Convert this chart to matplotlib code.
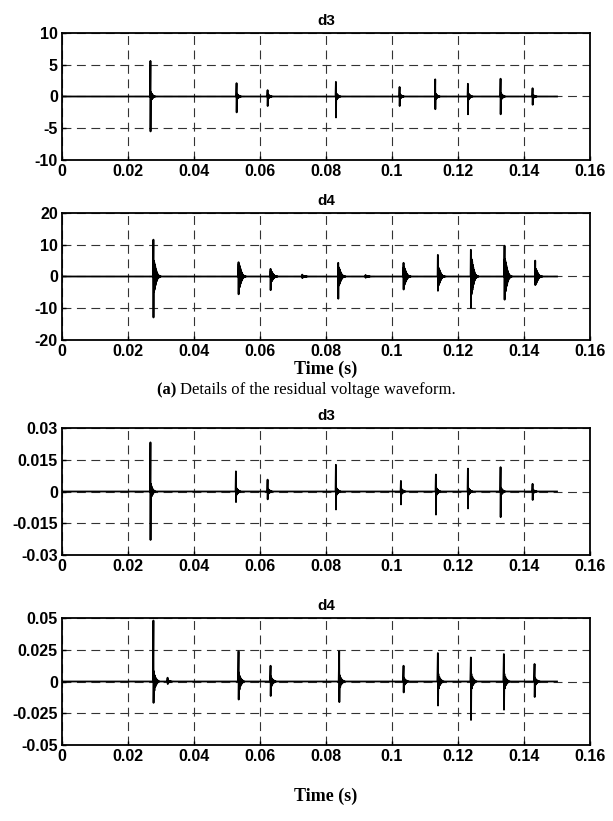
import matplotlib
matplotlib.use("Agg")
import matplotlib.pyplot as plt

# ---------------- data ----------------
t_end = 0.15
x_ticks = [0, 0.02, 0.04, 0.06, 0.08, 0.1, 0.12, 0.14, 0.16]
x_ticklabels = ["0", "0.02", "0.04", "0.06", "0.08", "0.1", "0.12", "0.14", "0.16"]

# (a) residual voltage, d3
a_d3_times = [0.0268, 0.0529, 0.0623, 0.0830, 0.1023, 0.1131, 0.1230, 0.1329, 0.1426]
a_d3_pos = [5.6, 2.1, 1.0, 2.3, 1.5, 2.7, 2.0, 2.8, 1.3]
a_d3_neg = [-5.5, -2.5, -1.5, -3.3, -1.5, -2.0, -2.8, -2.8, -1.3]
a_d3_ring = [0.8, 0.5, 0.4, 0.6, 0.4, 0.5, 0.6, 0.6, 0.3]
a_d3_yticks = [-10, -5, 0, 5, 10]

# (a) residual voltage, d4
a_d4_times = [0.0277, 0.0535, 0.0632, 0.0728, 0.0837, 0.0920, 0.1035, 0.1139, 0.1239, 0.1341, 0.1434]
a_d4_pos = [11.6, 4.5, 2.4, 0.6, 4.3, 0.5, 4.3, 6.8, 8.4, 9.7, 5.0]
a_d4_neg = [-12.9, -5.6, -4.3, -0.5, -7.0, -0.4, -4.1, -4.5, -9.9, -7.3, -2.7]
a_d4_ring = [5.0, 4.0, 1.8, 0.3, 3.0, 0.2, 3.0, 3.0, 6.0, 5.5, 2.5]
a_d4_yticks = [-20, -10, 0, 10, 20]

# (b) second signal, d3
b_d3_times = [0.0268, 0.0527, 0.0623, 0.0830, 0.1027, 0.1133, 0.1230, 0.1329, 0.1426]
b_d3_pos = [0.0232, 0.0095, 0.0056, 0.0126, 0.0050, 0.0080, 0.0108, 0.0115, 0.0036]
b_d3_neg = [-0.0229, -0.0050, -0.0037, -0.0085, -0.0061, -0.0109, -0.0080, -0.0121, -0.0040]
b_d3_ring = [0.004, 0.002, 0.0015, 0.002, 0.0015, 0.002, 0.002, 0.002, 0.001]
b_d3_yticks = [-0.03, -0.015, 0, 0.015, 0.03]

# (b) second signal, d4
b_d4_times = [0.0277, 0.0320, 0.0535, 0.0632, 0.0840, 0.1035, 0.1139, 0.1239, 0.1339, 0.1432]
b_d4_pos = [0.048, 0.003, 0.0238, 0.0124, 0.0238, 0.0124, 0.0224, 0.0189, 0.0216, 0.0138]
b_d4_neg = [-0.0168, -0.002, -0.0142, -0.0114, -0.0162, -0.0086, -0.0189, -0.0303, -0.0222, -0.0122]
b_d4_ring = [0.008, 0.001, 0.007, 0.004, 0.005, 0.003, 0.006, 0.006, 0.006, 0.003]
b_d4_yticks = [-0.05, -0.025, 0, 0.025, 0.05]

# ring-down shapes (relative amplitude of successive samples after the spike)
short_ring = [0.9, -0.8, 0.65, -0.55, 0.45, -0.38, 0.3, -0.24, 0.18, -0.14,
              0.1, -0.07, 0.05, -0.03, 0.02, -0.01]
long_ring = [1.0, -0.95, 0.9, -0.85, 0.78, -0.7, 0.62, -0.55, 0.48, -0.42,
             0.36, -0.31, 0.26, -0.22, 0.18, -0.15, 0.12, -0.1, 0.08, -0.07,
             0.06, -0.05, 0.04, -0.03, 0.025, -0.02, 0.015, -0.01]
sparse_ring = [1.0, -0.9, 0.6, -0.5, 0.35, -0.3, 0.2, -0.15, 0.1, -0.06, 0.04, -0.02]


def build_trace(times, pos, neg, ring, shape, dt):
    t = [0.0]
    y = [0.0]
    for t0, p, n, r in zip(times, pos, neg, ring):
        t += [t0 - dt, t0, t0 + 0.3 * dt]
        y += [0.0, p, n]
        for k, s in enumerate(shape):
            t.append(t0 + dt * (k + 1))
            y.append(r * s)
        t.append(t0 + dt * (len(shape) + 1))
        y.append(0.0)
    t.append(t_end)
    y.append(0.0)
    return t, y


panels = [
    ("d3", a_d3_times, a_d3_pos, a_d3_neg, a_d3_ring, short_ring, 0.0001, a_d3_yticks,
     ["-10", "-5", "0", "5", "10"]),
    ("d4", a_d4_times, a_d4_pos, a_d4_neg, a_d4_ring, long_ring, 0.00008, a_d4_yticks,
     ["-20", "-10", "0", "10", "20"]),
    ("d3", b_d3_times, b_d3_pos, b_d3_neg, b_d3_ring, short_ring, 0.0001, b_d3_yticks,
     ["-0.03", "-0.015", "0", "0.015", "0.03"]),
    ("d4", b_d4_times, b_d4_pos, b_d4_neg, b_d4_ring, sparse_ring, 0.00015, b_d4_yticks,
     ["-0.05", "-0.025", "0", "0.025", "0.05"]),
]

# ---------------- figure ----------------
W, H = 613, 821
fig = plt.figure(figsize=(W / 100, H / 100), dpi=100)

left, right = 62, 590
tops = [33, 213, 428, 618]
ph = 127

sans = ["Liberation Sans", "DejaVu Sans"]
serif = ["Liberation Serif", "DejaVu Serif"]

for (title, times, pos, neg, ring, shape, dt, yt, ytl), top in zip(panels, tops):
    ax = fig.add_axes([left / W, 1 - (top + ph) / H, (right - left) / W, ph / H])
    t, y = build_trace(times, pos, neg, ring, shape, dt)
    ax.plot(t, y, color="black", lw=1.3, zorder=3)
    ax.set_xlim(0, 0.16)
    ax.set_ylim(yt[0], yt[-1])
    ax.set_xticks(x_ticks)
    ax.set_xticklabels(x_ticklabels, fontfamily=sans, fontweight="bold", fontsize=11.5)
    ax.set_yticks(yt)
    ax.set_yticklabels(ytl, fontfamily=sans, fontweight="bold", fontsize=11.5)
    ax.tick_params(direction="in", length=3, width=1, pad=3)
    ax.grid(True, color="#333333", linestyle=(0, (8, 5)), linewidth=0.8, zorder=1)
    for s in ax.spines.values():
        s.set_linewidth(1.3)
    ax.set_title(title, fontfamily=sans, fontweight="bold", fontsize=11, pad=6)

# x labels
fig.text(326 / W, 1 - 369 / H, "Time (s)", ha="center", va="center",
         fontfamily=serif, fontweight="bold", fontsize=13)
fig.text(326 / W, 1 - 796 / H, "Time (s)", ha="center", va="center",
         fontfamily=serif, fontweight="bold", fontsize=13)

# caption with bold "(a)"
renderer = fig.canvas.get_renderer()
cap_y = 1 - 390 / H
t1 = fig.text(0, cap_y, "(a) ", ha="left", va="center", fontfamily=serif,
              fontweight="bold", fontsize=12)
t2 = fig.text(0, cap_y, "Details of the residual voltage waveform.", ha="left",
              va="center", fontfamily=serif, fontsize=12)
w1 = t1.get_window_extent(renderer).width
w2 = t2.get_window_extent(renderer).width
x0 = W / 2 - (w1 + w2) / 2
t1.set_x(x0 / W)
t2.set_x((x0 + w1) / W)

fig.savefig("out.png", dpi=100)
